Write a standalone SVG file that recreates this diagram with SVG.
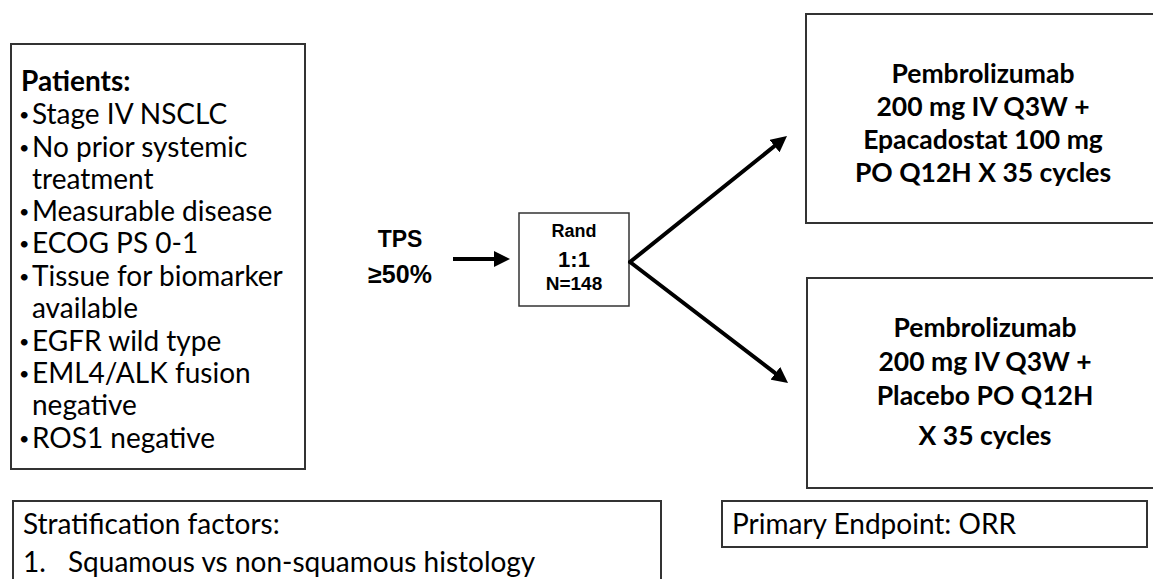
<svg xmlns="http://www.w3.org/2000/svg" width="1153" height="579" viewBox="0 0 1153 579">
  <style>
    .box { fill: #ffffff; stroke: #333333; stroke-width: 2; }
    .cal { font-family: Lato, "Open Sans", sans-serif; fill: #000000; }
    .pat { font-size: 28px; }
    .bul { font-size: 18px; }
    .arm { font-size: 26.5px; font-weight: bold; text-anchor: middle; }
    .ari { font-family: "Liberation Sans", Arial, sans-serif; font-weight: bold; fill: #000000; text-anchor: middle; }
    .conn { stroke: #000000; stroke-width: 4; fill: none; marker-end: url(#arrow); }
  </style>
  <defs>
    <marker id="arrow" markerUnits="userSpaceOnUse" markerWidth="18" markerHeight="16" refX="6" refY="8" orient="auto">
      <path d="M0,0 L16,8 L0,16 z" fill="#000000"/>
    </marker>
  </defs>
  <rect width="1153" height="579" fill="#ffffff"/>

  <g id="patients">
    <rect class="box" x="11" y="44" width="294" height="425"/>
    <text class="cal pat" x="21" y="91" font-weight="bold">Patients:</text>
    <g class="cal">
      <text class="bul" x="19" y="121">•</text><text class="pat" x="32" y="124">Stage IV NSCLC</text>
      <text class="bul" x="19" y="154">•</text><text class="pat" x="32" y="157">No prior systemic</text>
      <text class="pat" x="32" y="189">treatment</text>
      <text class="bul" x="19" y="218">•</text><text class="pat" x="32" y="221">Measurable disease</text>
      <text class="bul" x="19" y="250">•</text><text class="pat" x="32" y="253">ECOG PS 0-1</text>
      <text class="bul" x="19" y="283">•</text><text class="pat" x="32" y="286">Tissue for biomarker</text>
      <text class="pat" x="32" y="318">available</text>
      <text class="bul" x="19" y="348">•</text><text class="pat" x="32" y="351">EGFR wild type</text>
      <text class="bul" x="19" y="380">•</text><text class="pat" x="32" y="383">EML4/ALK fusion</text>
      <text class="pat" x="32" y="415">negative</text>
      <text class="bul" x="19" y="445">•</text><text class="pat" x="32" y="448">ROS1 negative</text>
    </g>
  </g>

  <g id="tps">
    <text class="ari" x="400" y="247" font-size="23">TPS</text>
    <text class="ari" x="400" y="283" font-size="25">≥50%</text>
  </g>

  <g id="rand">
    <rect x="519" y="213" width="110" height="93" fill="#ffffff" stroke="#333333" stroke-width="1.5"/>
    <text class="ari" x="574" y="237" font-size="18">Rand</text>
    <text class="ari" x="574" y="267" font-size="22">1:1</text>
    <text class="ari" x="574" y="290" font-size="19">N=148</text>
  </g>

  <g id="arm-epacadostat">
    <rect class="box" x="806" y="14" width="360" height="209"/>
    <text class="cal arm" x="983" y="83">Pembrolizumab</text>
    <text class="cal arm" x="983" y="116">200 mg IV Q3W +</text>
    <text class="cal arm" x="983" y="149">Epacadostat 100 mg</text>
    <text class="cal arm" x="983" y="182">PO Q12H X 35 cycles</text>
  </g>

  <g id="arm-placebo">
    <rect class="box" x="807" y="278" width="360" height="210"/>
    <text class="cal arm" x="985" y="337">Pembrolizumab</text>
    <text class="cal arm" x="985" y="371">200 mg IV Q3W +</text>
    <text class="cal arm" x="985" y="405">Placebo PO Q12H</text>
    <text class="cal arm" x="985" y="445">X 35 cycles</text>
  </g>

  <g id="stratification">
    <rect class="box" x="13" y="501" width="648" height="90"/>
    <text class="cal pat" x="23" y="534">Stratification factors:</text>
    <text class="cal pat" x="23" y="572">1.</text>
    <text class="cal pat" x="68" y="572">Squamous vs non-squamous histology</text>
  </g>

  <g id="endpoint">
    <rect class="box" x="722" y="501" width="425" height="46"/>
    <text class="cal pat" x="732" y="534">Primary Endpoint: ORR</text>
  </g>

  <g id="connectors">
    <line class="conn" x1="453" y1="259" x2="500" y2="259"/>
    <line class="conn" x1="630" y1="262" x2="779.2" y2="142.3" stroke-linecap="round"/>
    <line class="conn" x1="630" y1="262" x2="780.1" y2="376.9" stroke-linecap="round"/>
  </g>
</svg>
